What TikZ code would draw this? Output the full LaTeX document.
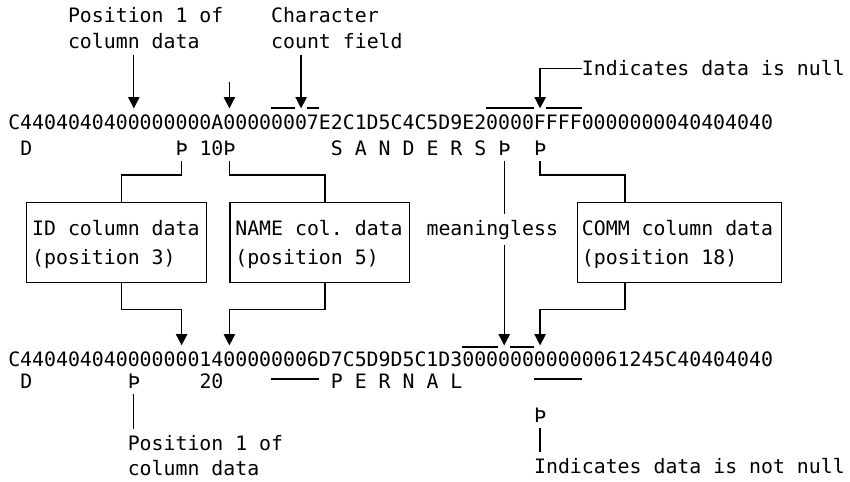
\documentclass[tikz,border=0pt]{standalone}
\usepackage{fontspec}
\setmonofont{DejaVu Sans Mono}
\usetikzlibrary{arrows.meta}

\tikzset{
  txt/.style={anchor=base west, inner sep=0pt, outer xsep=0pt, outer ysep=5pt,
    font=\ttfamily\fontsize{16.94pt}{20pt}\selectfont},
  wire/.style={line width=1.1pt},
  arr/.style={wire, -{Triangle[length=3.4mm, width=3.4mm]}},
  colbox/.style={draw, line width=1.1pt, inner sep=0pt, anchor=north west,
    minimum height=2.4cm}
}

\begin{document}
\begin{tikzpicture}[x=0.03cm, y=-0.03cm]
\useasboundingbox (0,0) rectangle (850,481);

% character columns used by the connectors
\coordinate (k10) at (121.8,0);
\coordinate (k11) at (133.8,0);
\coordinate (k15) at (181.6,0);
\coordinate (k19) at (229.4,0);
\coordinate (k25) at (301.1,0);
\coordinate (k27) at (324.9,0);
\coordinate (k42) at (504.2,0);
\coordinate (k45) at (540.1,0);
\coordinate (k52) at (625.0,0);
\coordinate (freeA) at (229.4,82);

% labels above the first row
\node[txt] (posA1) at (68.05,23) {Position 1 of};
\node[txt] (posA2) at (68.05,49) {column data};
\node[txt] (cntA1) at (271.2,23) {Character};
\node[txt] (cntA2) at (271.2,49) {count field};
\node[txt] (nullA) at (581.9,76) {Indicates data is null};

% first row
\node[txt] (hexA) at (8.3,129) {C4404040400000000A00000007E2C1D5C4C5D9E20000FFFF0000000040404040};
\node[txt] (dA) at (20.25,155) {D};
\node[txt] (thA) at (175.6,155) {Þ};
\node[txt] (tenA) at (199.5,155) {10Þ};
\node[txt] (sanders) at (330.95,155) {S A N D E R S};
\node[txt] (thB) at (498.25,155) {Þ};
\node[txt] (thC) at (534.1,155) {Þ};

\draw[arr] (k11 |- posA2.south) -- (k11 |- hexA.north);
\draw[arr] (freeA) -- (k19 |- hexA.north);
\draw[arr] (k25 |- cntA2.south) -- (k25 |- hexA.north);
\draw[arr] (nullA.west) -| (k45 |- hexA.north);

\draw[wire] (271.2,108) -- (295.1,108);
\draw[wire] (307.05,108) -- (319.0,108);
\draw[wire] (486.3,108) -- (534.1,108);
\draw[wire] (546.05,108) -- (581.9,108);

% boxes
\node[colbox, minimum width=5.38cm] (idbox) at (26.2,202) {};
\node[colbox, minimum width=5.38cm] (namebox) at (229.4,202) {};
\node[colbox, minimum width=6.12cm] (commbox) at (577,202) {};

\node[txt] (idA) at (32.2,235) {ID column data};
\node[txt] (idB) at (32.2,264) {(position 3)};
\node[txt] (nameA) at (235.35,235) {NAME col. data};
\node[txt] (nameB) at (235.35,264) {(position 5)};
\node[txt] (meantxt) at (426.55,235) {meaningless};
\node[txt] (commA) at (581.9,235) {COMM column data};
\node[txt] (commB) at (581.9,264) {(position 18)};

% second row
\node[txt] (hexB) at (8.3,366) {C4404040400000001400000006D7C5D9D5C1D300000000000061245C40404040};
\node[txt] (dB) at (20.25,388) {D};
\node[txt] (thD) at (127.8,388) {Þ};
\node[txt] (twenty) at (199.5,388) {20};
\node[txt] (pernal) at (330.95,388) {P E R N A L};
\node[txt] (thE) at (534.1,422) {Þ};
\draw[wire] (271.2,379) -- (319.0,379);
\draw[wire] (534.1,379) -- (581.9,379);

\draw[wire] (k15 |- thA.south) -- ++(0,14) -| (k10 |- idbox.north);
\draw[wire] (k19 |- tenA.south) -- ++(0,14) -| (k27 |- namebox.north);
\draw[wire] (k45 |- thC.south) -- ++(0,14) -| (k52 |- commbox.north);
\draw[wire] (k42 |- thB.south) -- (k42 |- meantxt.north);

\draw[arr] (k10 |- idbox.south) -- ++(0,26) -| (k15 |- hexB.north);
\draw[arr] (k27 |- namebox.south) -- ++(0,26) -| (k19 |- hexB.north);
\draw[arr] (k52 |- commbox.south) -- ++(0,26) -| (k45 |- hexB.north);
\draw[arr] (k42 |- meantxt.south) -- (k42 |- hexB.north);

\draw[wire] (462.4,347) -- (498.25,347);
\draw[wire] (510.2,347) -- (534.1,347);

% labels below the second row
\node[txt] (posB1) at (127.8,450) {Position 1 of};
\node[txt] (posB2) at (127.8,475) {column data};
\node[txt] (nnull) at (534.1,473) {Indicates data is not null};

\draw[wire] (k11 |- thD.south) -- (k11 |- posB1.north);
\draw[wire] (k45 |- thE.south) -- (k45 |- nnull.north);

\end{tikzpicture}
\end{document}
